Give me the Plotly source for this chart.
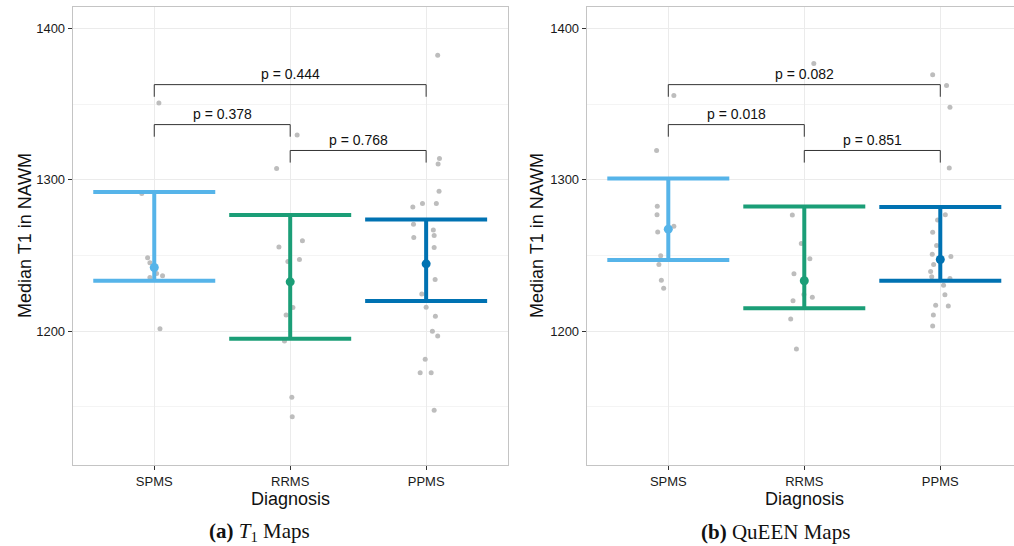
import plotly.graph_objects as go

# ---------------- data ----------------
CATEGORIES = ["SPMS", "RRMS", "PPMS"]
COLORS = ["#56B4E9", "#1B9E77", "#0072B2"]

# Panel (a): T1 maps - individual subjects (value, horizontal jitter)
T1_SPMS_VALUES = [1350.7, 1290.9, 1248.4, 1245.1, 1238.1, 1236.5, 1235.4, 1201.5]
T1_SPMS_JITTER = [0.034, -0.092, -0.049, -0.032, 0.017, 0.061, -0.032, 0.042]
T1_RRMS_VALUES = [1329.6, 1307.4, 1259.6, 1255.6, 1247.3, 1246.0, 1215.6, 1210.6, 1193.4, 1156.2, 1143.4]
T1_RRMS_JITTER = [0.051, -0.100, 0.090, -0.083, 0.068, -0.017, 0.020, -0.030, -0.042, 0.012, 0.015]
T1_PPMS_VALUES = [1382.2, 1314.0, 1310.4, 1292.4, 1284.3, 1284.3, 1282.0, 1270.6, 1266.7, 1263.2,
                  1261.8, 1255.2, 1234.1, 1224.4, 1215.8, 1209.7, 1199.8, 1196.7, 1181.3, 1172.5,
                  1172.5, 1147.7]
T1_PPMS_JITTER = [0.085, 0.098, 0.088, 0.095, -0.027, 0.075, -0.098, -0.093, 0.053, 0.059,
                  -0.091, 0.059, 0.066, -0.032, 0.000, 0.068, 0.046, 0.085, -0.007, -0.044,
                  0.037, 0.059]
T1_CENTER = [1242.0, 1232.5, 1244.4]
T1_LOWER = [1233.2, 1194.9, 1219.8]
T1_UPPER = [1291.9, 1276.6, 1273.7]
T1_PVALUES = ["p = 0.378", "p = 0.768", "p = 0.444"]

# Panel (b): QuEEN maps
Q_SPMS_VALUES = [1355.6, 1319.3, 1282.5, 1276.8, 1269.3, 1265.5, 1249.7, 1244.0, 1233.5, 1228.2]
Q_SPMS_JITTER = [0.041, -0.086, -0.081, -0.083, 0.041, -0.078, -0.056, -0.069, -0.051, -0.034]
Q_RRMS_VALUES = [1376.7, 1276.6, 1257.9, 1247.7, 1237.8, 1224.2, 1222.4, 1220.0, 1207.9, 1188.1]
Q_RRMS_JITTER = [0.070, -0.088, -0.022, 0.041, -0.076, -0.003, 0.059, -0.083, -0.100, -0.058]
Q_PPMS_VALUES = [1369.4, 1362.2, 1347.9, 1307.8, 1276.8, 1273.3, 1265.3, 1256.6, 1250.8, 1249.3,
                 1244.0, 1239.4, 1235.9, 1234.8, 1230.2, 1224.0, 1217.0, 1216.5, 1210.6, 1203.3]
Q_PPMS_JITTER = [-0.056, 0.046, 0.071, 0.066, 0.037, -0.020, -0.056, -0.027, -0.059, 0.078,
                 -0.049, -0.071, -0.063, 0.071, 0.024, 0.034, -0.034, 0.059, -0.051, -0.056]
Q_CENTER = [1267.3, 1233.2, 1247.3]
Q_LOWER = [1246.9, 1215.0, 1233.2]
Q_UPPER = [1300.8, 1282.3, 1282.0]
Q_PVALUES = ["p = 0.018", "p = 0.851", "p = 0.082"]

BRACKET_PAIRS = [(1, 2), (2, 3), (1, 3)]
BRACKET_LEVELS = [1336.4, 1319.3, 1362.8]
BRACKET_DROP = 8.0
Y_TICKS = [1200, 1300, 1400]

# ---------------- figure ----------------
W, H = 1014, 546
fig = go.Figure()

PANELS = [
    dict(xa="x", ya="y",
         values=[T1_SPMS_VALUES, T1_RRMS_VALUES, T1_PPMS_VALUES],
         jitter=[T1_SPMS_JITTER, T1_RRMS_JITTER, T1_PPMS_JITTER],
         center=T1_CENTER, lower=T1_LOWER, upper=T1_UPPER, pvals=T1_PVALUES),
    dict(xa="x2", ya="y2",
         values=[Q_SPMS_VALUES, Q_RRMS_VALUES, Q_PPMS_VALUES],
         jitter=[Q_SPMS_JITTER, Q_RRMS_JITTER, Q_PPMS_JITTER],
         center=Q_CENTER, lower=Q_LOWER, upper=Q_UPPER, pvals=Q_PVALUES),
]

annotations = []
for p in PANELS:
    # jittered individual points
    for i, (vals, jit) in enumerate(zip(p["values"], p["jitter"])):
        fig.add_trace(go.Scatter(
            x=[i + 1 + j for j in jit], y=vals, mode="markers",
            marker=dict(size=5, color="#BDBDBD"),
            xaxis=p["xa"], yaxis=p["ya"], showlegend=False, hoverinfo="y"))
    # error bars with centre dot
    for i in range(3):
        c = p["center"][i]
        fig.add_trace(go.Scatter(
            x=[i + 1], y=[c], mode="markers",
            marker=dict(size=9, color=COLORS[i]),
            error_y=dict(type="data", symmetric=False,
                         array=[p["upper"][i] - c], arrayminus=[c - p["lower"][i]],
                         width=61, thickness=4, color=COLORS[i]),
            xaxis=p["xa"], yaxis=p["ya"], showlegend=False))
    # significance brackets
    for (a, b), lvl, txt in zip(BRACKET_PAIRS, BRACKET_LEVELS, p["pvals"]):
        fig.add_trace(go.Scatter(
            x=[a, a, b, b], y=[lvl - BRACKET_DROP, lvl, lvl, lvl - BRACKET_DROP],
            mode="lines", line=dict(color="#333333", width=1),
            xaxis=p["xa"], yaxis=p["ya"], showlegend=False, hoverinfo="skip"))
        annotations.append(dict(
            x=(a + b) / 2, y=lvl + 6.8, xref=p["xa"], yref=p["ya"], text=txt,
            showarrow=False, yanchor="middle",
            font=dict(family="Liberation Sans, Arial, sans-serif", size=14, color="#111111")))

axis_font = dict(family="Liberation Sans, Arial, sans-serif", size=13, color="#1A1A1A")
common_x = dict(tickmode="array", tickvals=[1, 2, 3], ticktext=CATEGORIES,
                ticks="outside", ticklen=4, tickcolor="#333333", tickfont=axis_font,
                showgrid=True, gridcolor="#EBEBEB", gridwidth=1, zeroline=False,
                showline=True, linecolor="#C4C4C4", linewidth=1)
common_y = dict(tickmode="array", tickvals=Y_TICKS, range=[1111.5, 1413.9],
                ticks="outside", ticklen=4, tickcolor="#333333", tickfont=axis_font,
                showgrid=True, gridcolor="#EBEBEB", gridwidth=1, zeroline=False,
                minor=dict(tickmode="array", tickvals=[1150, 1250, 1350], showgrid=True,
                           gridcolor="#F4F4F4", gridwidth=1, ticks=""),
                showline=True, linecolor="#C4C4C4", linewidth=1)

ydom = [1 - 465 / H, 1 - 7.3 / H]
fig.update_layout(
    width=W, height=H, margin=dict(l=0, r=0, t=0, b=0),
    paper_bgcolor="white", plot_bgcolor="white",
    xaxis=dict(common_x, domain=[72.7 / W, 507.7 / W], range=[0.4, 3.6], mirror=True, anchor="y"),
    yaxis=dict(common_y, domain=ydom, mirror=True, anchor="x"),
    xaxis2=dict(common_x, domain=[586.7 / W, 1.0], range=[0.4, 3.542], mirror=True, anchor="y2"),
    yaxis2=dict(common_y, domain=ydom, mirror=False, anchor="x2"),
)

title_font = dict(family="Liberation Sans, Arial, sans-serif", size=18, color="#111111")
cap_font = dict(family="Liberation Serif, DejaVu Serif, serif", size=21, color="#111111")
for xt, xc, xcap, cap in [(25, 290, 259, "<b>(a)</b> <i>T</i><sub>1</sub> Maps"),
                          (537, 804, 775, "<b>(b)</b> QuEEN Maps")]:
    annotations.append(dict(x=xt / W, y=1 - 236 / H, xref="paper", yref="paper",
                            text="Median T1 in NAWM", textangle=-90, showarrow=False,
                            font=title_font, xanchor="center", yanchor="middle"))
    annotations.append(dict(x=xc / W, y=1 - 499 / H, xref="paper", yref="paper",
                            text="Diagnosis", showarrow=False, font=title_font,
                            xanchor="center", yanchor="middle"))
    annotations.append(dict(x=xcap / W, y=1 - 532 / H, xref="paper", yref="paper",
                            text=cap, showarrow=False, font=cap_font,
                            xanchor="center", yanchor="middle"))

fig.update_layout(annotations=annotations)
fig.write_html("out.html", config={"displayModeBar": False},
               post_script="document.body.style.margin='0px';document.body.style.overflow='hidden';")
